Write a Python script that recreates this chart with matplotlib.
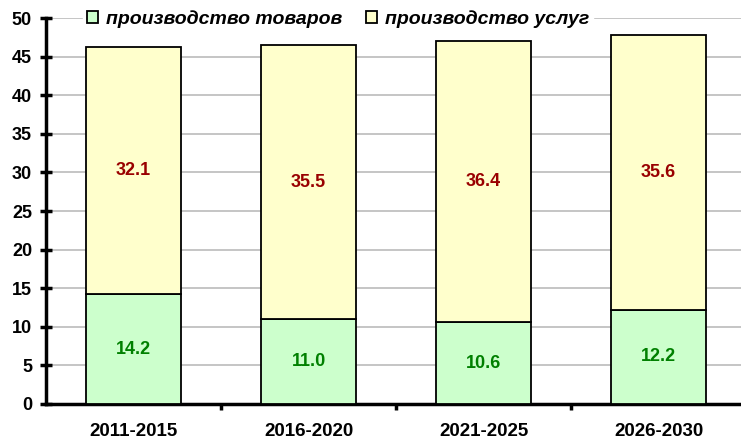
import numpy as np
import matplotlib
matplotlib.use('Agg')
from matplotlib import pyplot as plt

periods = ['2011-2015', '2016-2020', '2021-2025', '2026-2030']
goods = [14.2, 11.0, 10.6, 12.2]
services = [32.1, 35.5, 36.4, 35.6]
series_names = ['производство товаров', 'производство услуг']

plt.rcParams['font.family'] = ['Liberation Sans', 'DejaVu Sans']

fig = plt.figure(figsize=(7.41, 4.42), dpi=100)
ax = fig.add_axes([0.062, 0.086, 0.945, 0.873])

x = np.arange(len(periods))
w = 0.54
ax.bar(x, goods, w, color='#ccffcc', edgecolor='black', linewidth=1.3, label=series_names[0], zorder=3)
ax.bar(x, services, w, bottom=goods, color='#ffffcc', edgecolor='black', linewidth=1.3, label=series_names[1], zorder=3)

for i in range(len(periods)):
    ax.text(x[i], goods[i] / 2, f'{goods[i]:.1f}', ha='center', va='center',
            color='#008000', fontsize=13, fontweight='bold', zorder=4)
    ax.text(x[i], goods[i] + services[i] / 2, f'{services[i]:.1f}', ha='center', va='center',
            color='#990000', fontsize=13, fontweight='bold', zorder=4)

ax.set_xlim(-0.5, len(periods) - 0.5)
ax.set_ylim(0, 50)
ax.set_yticks(np.arange(0, 51, 5))
ax.yaxis.grid(True, color='#c0c0c0', linewidth=1.3, zorder=0)
ax.set_axisbelow(True)

ax.set_xticks(x)
ax.set_xticklabels(periods, fontsize=13.5, fontweight='bold')
ax.tick_params(axis='x', which='major', length=0, pad=14)
ax.set_xticks(x[:-1] + 0.5, minor=True)
ax.tick_params(axis='x', which='minor', length=4, width=2.5, direction='out')
ax.tick_params(axis='y', length=8, width=2.5, direction='inout', labelsize=13, pad=6)
for lbl in ax.get_yticklabels():
    lbl.set_fontweight('bold')

for s in ['top', 'right']:
    ax.spines[s].set_visible(False)
ax.spines['left'].set_linewidth(2.5)
ax.spines['bottom'].set_linewidth(2.5)

leg = ax.legend(loc='center', bbox_to_anchor=(0.417, 0.998), ncol=2, frameon=True,
                fancybox=False, edgecolor='white', framealpha=1,
                prop={'size': 14, 'weight': 'bold', 'style': 'italic'},
                handlelength=0.55, handleheight=0.55, handletextpad=0.4,
                columnspacing=1.25, borderpad=0.2)
leg.set_zorder(5)

fig.savefig('out.png', dpi=100)
